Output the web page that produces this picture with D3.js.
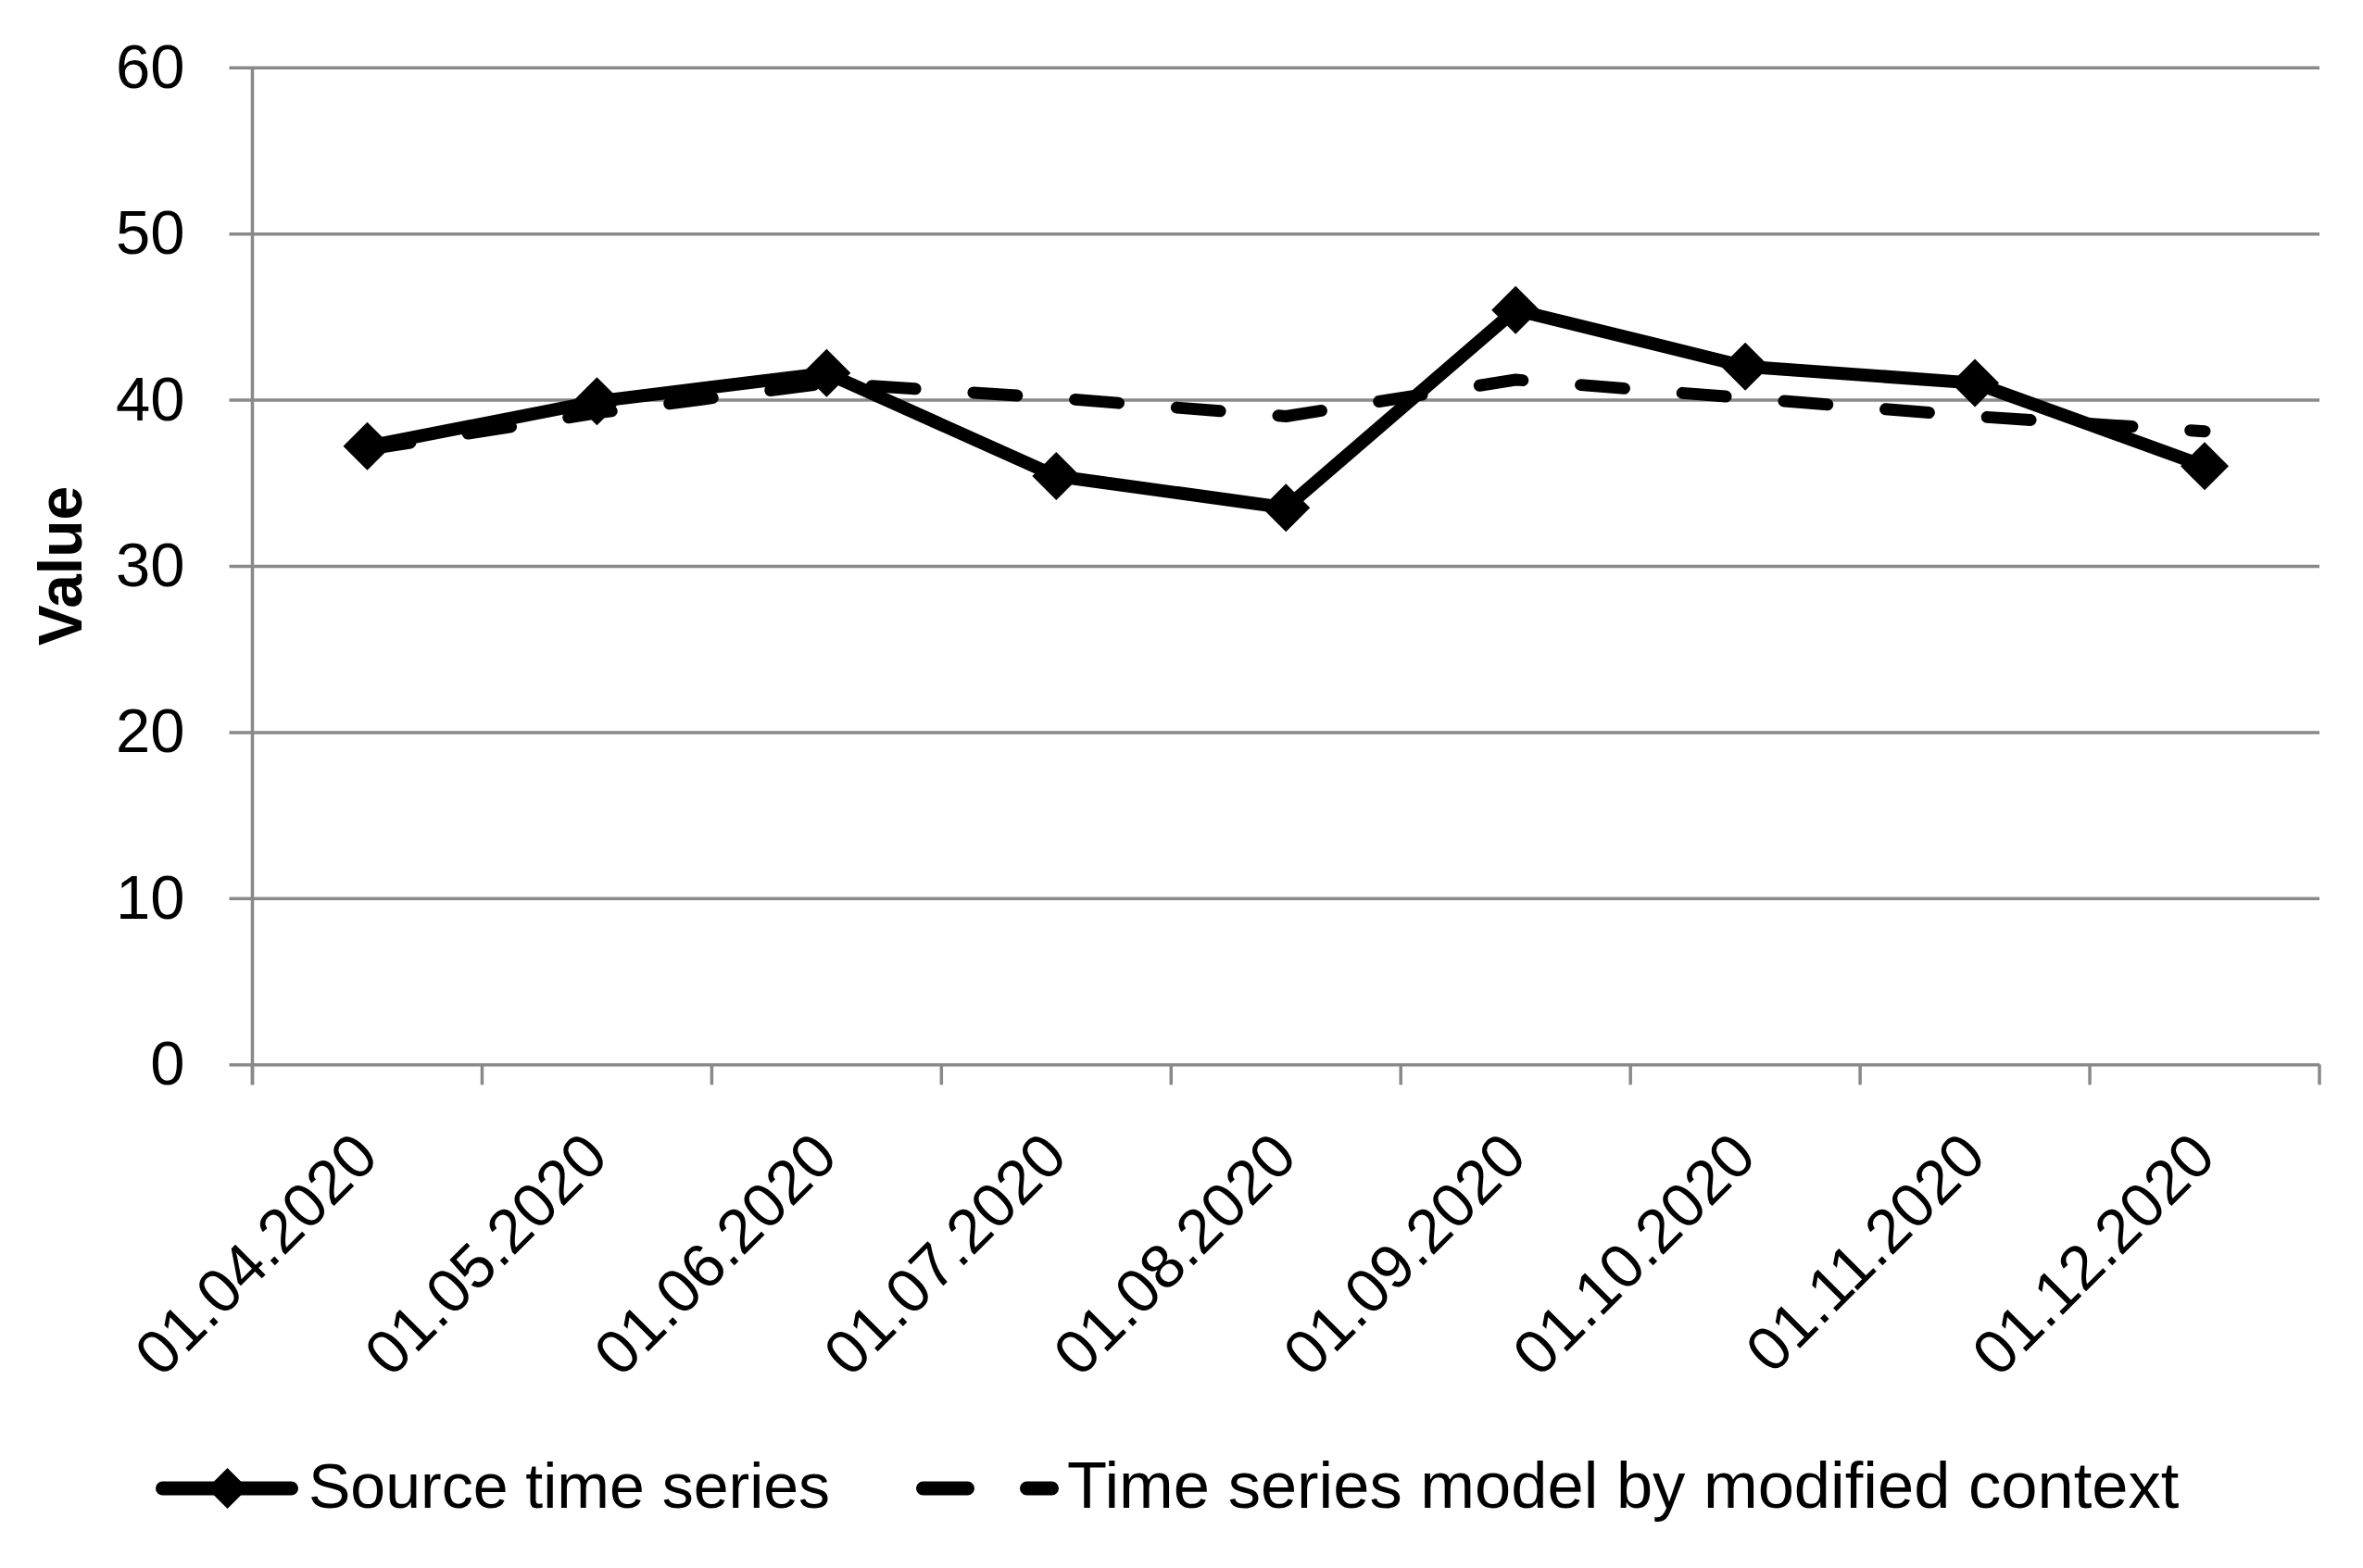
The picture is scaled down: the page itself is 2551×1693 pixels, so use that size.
<!DOCTYPE html>
<html>
<head>
<meta charset="utf-8">
<script src="https://cdn.jsdelivr.net/npm/d3@7"></script>
<style>
  html, body { margin: 0; padding: 0; background: #ffffff; }
  svg { display: block; }
  text { font-family: "Liberation Sans", Arial, sans-serif; fill: #000; }
</style>
</head>
<body>
<svg id="chart" width="2551" height="1693"></svg>
<script>
(function () {
// ---- data ----
const categories = ["01.04.2020", "01.05.2020", "01.06.2020", "01.07.2020", "01.08.2020",
                    "01.09.2020", "01.10.2020", "01.11.2020", "01.12.2020"];
const sourceValues = [37.2, 39.9, 41.6, 35.4, 33.5, 45.4, 42.0, 41.0, 36.0];
const modelValues  = [37.0, 39.2, 41.0, 40.1, 39.0, 41.2, 40.1, 39.0, 38.1];
const yTicks = [0, 10, 20, 30, 40, 50, 60];
const seriesNames = ["Source time series", "Time series model by modified context"];
const yTitle = "Value";

// ---- layout ----
const W = 2551, H = 1693;
const plotLeft = 272.5, plotRight = 2504, plotTop = 72.7, plotBottom = 1149.3;
const gridColor = "#898989";
const fontSize = 67;

const svg = d3.select("#chart");
svg.append("rect").attr("width", W).attr("height", H).attr("fill", "#fff");

const x = d3.scaleBand().domain(categories).range([plotLeft, plotRight]).paddingInner(0).paddingOuter(0);
const y = d3.scaleLinear().domain([0, 60]).range([plotBottom, plotTop]);
const bw = x.bandwidth();
const cx = c => x(c) + bw / 2;

// gridlines (extend left past axis as outward ticks)
const grid = svg.append("g")
  .attr("transform", `translate(${plotRight},0)`)
  .call(d3.axisLeft(y).tickValues(yTicks).tickSize(plotRight - plotLeft + 25).tickFormat(""));
grid.select(".domain").remove();
grid.selectAll(".tick line").attr("stroke", gridColor).attr("stroke-width", 3.5);

// y tick labels
const yAxis = svg.append("g")
  .attr("transform", `translate(${plotLeft},0)`)
  .call(d3.axisLeft(y).tickValues(yTicks).tickSize(25).tickPadding(48));
yAxis.select(".domain").remove();
yAxis.selectAll(".tick line").remove();
yAxis.selectAll(".tick text")
  .attr("font-size", fontSize)
  .attr("font-family", '"Liberation Sans", Arial, sans-serif')
  .attr("fill", "#000");

// vertical axis line
svg.append("line")
  .attr("x1", plotLeft).attr("x2", plotLeft)
  .attr("y1", y(60)).attr("y2", plotBottom + 22)
  .attr("stroke", gridColor).attr("stroke-width", 3.5);

// x ticks at band boundaries
const boundaries = categories.map(c => x(c)).concat([x.range()[1]]);
svg.append("g").selectAll("line").data(boundaries).join("line")
  .attr("x1", d => d).attr("x2", d => d)
  .attr("y1", plotBottom).attr("y2", plotBottom + 22)
  .attr("stroke", gridColor).attr("stroke-width", 3.5);

// x labels rotated -45
svg.append("g").selectAll("text").data(categories).join("text")
  .attr("transform", d => `translate(${cx(d) - 2},${plotBottom + 86}) rotate(-45)`)
  .attr("text-anchor", "end")
  .attr("dy", "0.35em")
  .attr("font-size", fontSize)
  .text(d => d);

// y title
svg.append("text")
  .attr("transform", `translate(65,${(plotTop + plotBottom) / 2}) rotate(-90)`)
  .attr("text-anchor", "middle")
  .attr("dy", "0.35em")
  .attr("font-size", 66)
  .attr("font-weight", "bold")
  .text(yTitle);

// lines
const line = d3.line().x((d, i) => cx(categories[i])).y(d => y(d));

svg.append("path").datum(modelValues)
  .attr("d", line)
  .attr("fill", "none").attr("stroke", "#000").attr("stroke-width", 13)
  .attr("stroke-dasharray", "47,63").attr("stroke-linecap", "round").attr("stroke-linejoin", "round");

svg.append("path").datum(sourceValues)
  .attr("d", line)
  .attr("fill", "none").attr("stroke", "#000").attr("stroke-width", 14)
  .attr("stroke-linejoin", "round");

// diamond markers
const diamond = d3.symbol().type(d3.symbolSquare).size(1352);
svg.append("g").selectAll("path").data(sourceValues).join("path")
  .attr("d", diamond)
  .attr("transform", (d, i) => `translate(${cx(categories[i])},${y(d)}) rotate(45)`)
  .attr("fill", "#000");

// legend
const ly = 1607;
const lg = svg.append("g");
lg.append("line").attr("x1", 175.5).attr("x2", 314.5).attr("y1", ly).attr("y2", ly)
  .attr("stroke", "#000").attr("stroke-width", 15).attr("stroke-linecap", "round");
lg.append("path").attr("d", d3.symbol().type(d3.symbolSquare).size(968)())
  .attr("transform", `translate(245.5,${ly}) rotate(45)`).attr("fill", "#000");
lg.append("text").attr("x", 333).attr("y", 1628).attr("font-size", 68).text(seriesNames[0]);

lg.append("line").attr("x1", 996.5).attr("x2", 1135.5).attr("y1", ly).attr("y2", ly)
  .attr("stroke", "#000").attr("stroke-width", 15).attr("stroke-linecap", "round")
  .attr("stroke-dasharray", "48,64");
lg.append("text").attr("x", 1152).attr("y", 1628).attr("font-size", 70.5).text(seriesNames[1]);
})();
</script>
</body>
</html>
